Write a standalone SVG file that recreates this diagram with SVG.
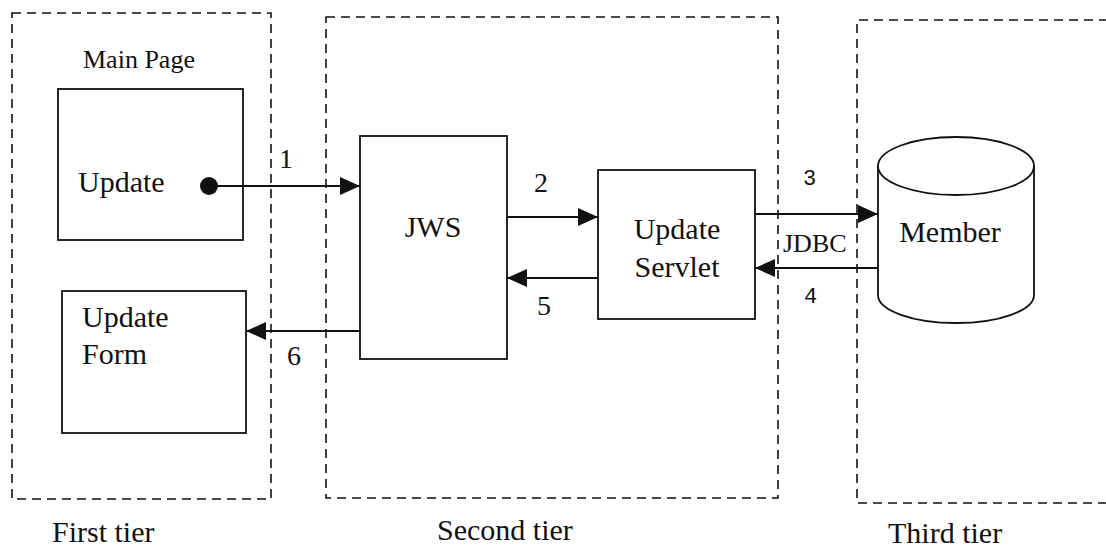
<svg xmlns="http://www.w3.org/2000/svg" width="1106" height="549" viewBox="0 0 1106 549">
<style>
.tier{fill:none;stroke:#111;stroke-width:1.6;stroke-dasharray:9 6}
.box{fill:#fff;stroke:#111;stroke-width:1.8}
.lbl{fill:#111}
.mono{fill:#111}
.conn{fill:none;stroke:#111;stroke-width:1.8}
</style>
<defs>
<marker id="ah" markerUnits="userSpaceOnUse" markerWidth="22" markerHeight="20" refX="20" refY="9" orient="auto">
<path d="M0,0 L20,9 L0,18 Z" fill="#111"/>
</marker>
</defs>
<rect width="1106" height="549" fill="#fff"/>
<g font-family="Liberation Serif, DejaVu Serif, serif">
<g id="first-tier">
<rect class="tier" x="12" y="13" width="259" height="486"/>
<text class="lbl" x="52" y="542" font-size="30">First tier</text>
</g>
<g id="second-tier">
<rect class="tier" x="326" y="17" width="452" height="481"/>
<text class="lbl" x="437" y="540" font-size="30">Second tier</text>
</g>
<g id="third-tier">
<path class="tier" d="M1108,20 L857,20 L857,503 L1108,503"/>
<text class="lbl" x="888" y="543" font-size="30">Third tier</text>
</g>
<g id="main-page">
<text class="lbl" x="83" y="68" font-size="26">Main Page</text>
<rect class="box" x="58" y="89" width="185" height="151"/>
<text class="lbl" x="78" y="192" font-size="30">Update</text>
<circle cx="209" cy="186" r="9" fill="#111"/>
</g>
<g id="update-form">
<rect class="box" x="62" y="291" width="184" height="142"/>
<text class="lbl" x="82" y="327" font-size="30">Update</text>
<text class="lbl" x="82" y="364" font-size="30">Form</text>
</g>
<g id="jws">
<rect class="box" x="360" y="136" width="147" height="223"/>
<text class="lbl" x="433" y="237" font-size="30" text-anchor="middle">JWS</text>
</g>
<g id="update-servlet">
<rect class="box" x="598" y="170" width="157" height="149"/>
<text class="lbl" x="677" y="239" font-size="30" text-anchor="middle">Update</text>
<text class="lbl" x="677" y="277" font-size="30" text-anchor="middle">Servlet</text>
</g>
<g id="member">
<path class="box" d="M878,166 L878,295 A78,28 0 0 0 1034,295 L1034,166"/>
<ellipse class="box" cx="956" cy="166" rx="78" ry="29"/>
<text class="lbl" x="950" y="242" font-size="30" text-anchor="middle">Member</text>
</g>
<g id="connectors">
<line class="conn" x1="209" y1="186" x2="360" y2="186" marker-end="url(#ah)"/>
<text class="lbl" x="279" y="168" font-size="28">1</text>
<line class="conn" x1="507" y1="217" x2="598" y2="217" marker-end="url(#ah)"/>
<text class="lbl" x="534" y="192" font-size="28">2</text>
<line class="conn" x1="755" y1="214" x2="878" y2="214" marker-end="url(#ah)"/>
<text class="mono" x="803" y="185" font-size="22" font-family="Liberation Mono, DejaVu Sans Mono, monospace">3</text>
<text class="lbl" x="783" y="252" font-size="26">JDBC</text>
<line class="conn" x1="878" y1="268" x2="755" y2="268" marker-end="url(#ah)"/>
<text class="mono" x="804" y="303" font-size="22" font-family="Liberation Mono, DejaVu Sans Mono, monospace">4</text>
<line class="conn" x1="598" y1="278" x2="507" y2="278" marker-end="url(#ah)"/>
<text class="lbl" x="537" y="315" font-size="28">5</text>
<line class="conn" x1="360" y1="331" x2="246" y2="331" marker-end="url(#ah)"/>
<text class="lbl" x="287" y="365" font-size="28">6</text>
</g>
</g>
</svg>
